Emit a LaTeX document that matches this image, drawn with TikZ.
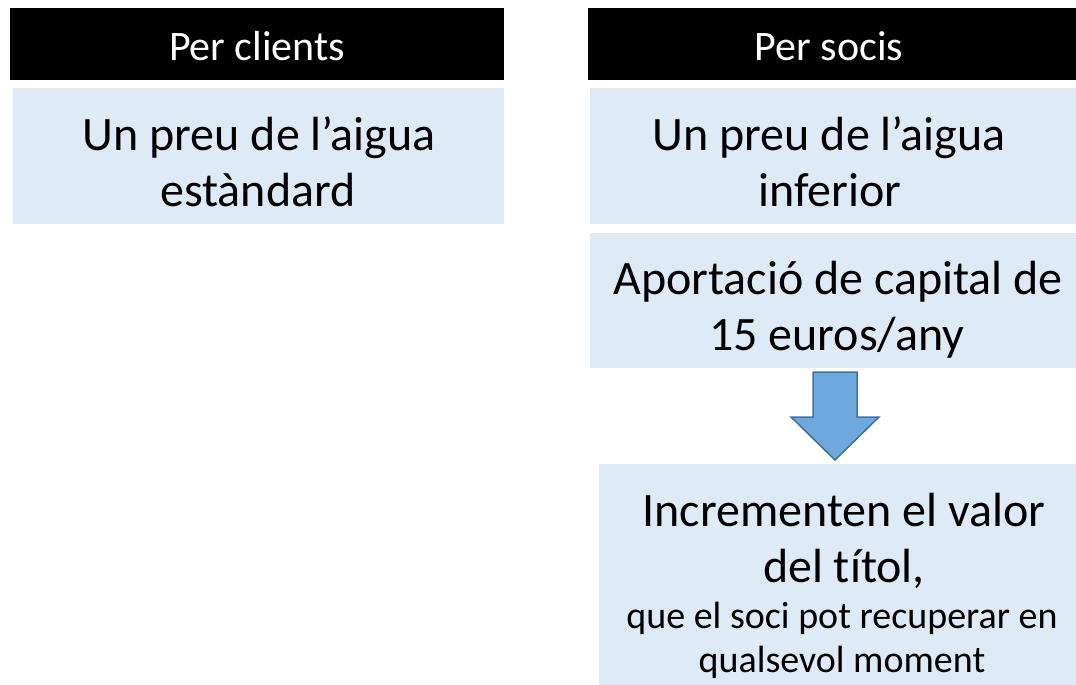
\documentclass[tikz,border=0pt]{standalone}
\usepackage{fontspec}
\setmainfont{Carlito}[Ligatures=NoCommon]
\definecolor{boxblue}{HTML}{DEEBF7}
\definecolor{arrowfill}{HTML}{6FA8DC}
\definecolor{arrowline}{HTML}{41719C}
\begin{document}
\begin{tikzpicture}[x=1pt,y=-1pt,
  hdr/.style={fill=black,draw=none,rectangle,inner sep=0pt},
  bluebox/.style={fill=boxblue,draw=none,rectangle,inner sep=0pt},
  hdrtext/.style={anchor=base,inner sep=0pt,text=white,font=\fontsize{42}{50}\selectfont},
  bigtext/.style={anchor=base,inner sep=0pt,font=\fontsize{48}{58}\selectfont},
  smalltext/.style={anchor=base,inner sep=0pt,font=\fontsize{38}{45}\selectfont}]
\useasboundingbox (0,0) rectangle (1076,685);
% boxes
\node[hdr,minimum width=494pt,minimum height=72pt] (hL) at (257,44) {};
\node[hdr,minimum width=488pt,minimum height=72pt] (hR) at (832,44) {};
\node[bluebox,minimum width=491pt,minimum height=136pt] (bL) at (258.5,156) {};
\node[bluebox,minimum width=486pt,minimum height=136pt] (bR1) at (833,156) {};
\node[bluebox,minimum width=486pt,minimum height=135pt] (bR2) at (833,300.5) {};
\node[bluebox,minimum width=477pt,minimum height=221pt] (bR3) at (837.5,574.5) {};
% texts
\node[hdrtext] (tL) at (257,60) {Per clients};
\node[hdrtext] (tR) at (829,60) {Per socis};
\node[bigtext] (l1) at (259,150) {Un preu de l’aigua};
\node[bigtext] (l2) at (258,206) {estàndard};
\node[bigtext] (r1) at (829,150) {Un preu de l’aigua};
\node[bigtext] (r2) at (830,206) {inferior};
\node[bigtext] (a1) at (838,294) {Aportació de capital de};
\node[bigtext] (a2) at (837,350) {15 euros/any};
\node[bigtext] (i1) at (844,526) {Incrementen el valor};
\node[bigtext] (i2) at (844,582) {del títol,};
\node[smalltext] (i3) at (842,628) {que el soci pot recuperar en};
\node[smalltext] (i4) at (842,672) {qualsevol moment};
% arrow
\draw[fill=arrowfill,draw=arrowline,line width=1.5pt,line join=miter]
  (813,372) -- (857,372) -- (857,417) -- (879,417) -- (835,460) -- (791,417) -- (813,417) -- cycle;
\end{tikzpicture}
\end{document}
